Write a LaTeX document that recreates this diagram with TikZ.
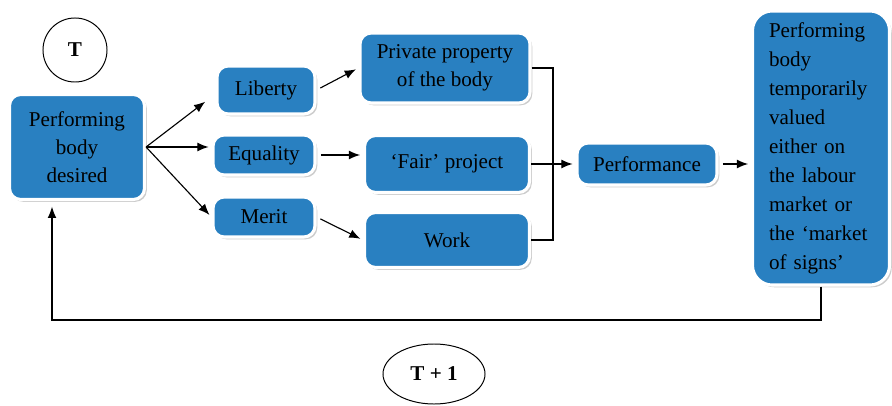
\documentclass[tikz,border=0pt]{standalone}
\usepackage{fontspec}
\setmainfont{Liberation Serif}
\usetikzlibrary{arrows.meta}
\usetikzlibrary{shapes.geometric,shadows}

\definecolor{boxblue}{RGB}{41,128,193}

\tikzset{
 blok/.style={draw=white, line width=2.2pt, fill=boxblue, rounded corners=8pt, align=center,
   drop shadow={shadow xshift=1.6pt, shadow yshift=-1.6pt, opacity=0.4},
   font=\fontsize{15}{20}\selectfont},
 link/.style={-{Latex[length=2.8mm,width=2.2mm]}, line width=0.8pt, shorten >=2pt},
 wire/.style={line width=0.8pt},
 tlabel/.style={draw, line width=0.7pt, font=\fontsize{15}{18}\selectfont\bfseries}
}

\begin{document}
\begin{tikzpicture}[x=0.025cm, y=-0.025cm]
 \useasboundingbox (0,0) rectangle (892,406);

 \node[tlabel, circle, minimum size=1.6cm] (t0) at (75,50) {T};
 \node[tlabel, ellipse, minimum width=2.55cm, minimum height=1.5cm] (t1) at (434,374) {T + 1};

 \node[blok, minimum width=3.375cm, minimum height=2.625cm] (desired) at (77,147) {Performing\\body\\desired};

 \node[blok, minimum width=2.45cm, minimum height=1.2cm] (liberty) at (266,90) {Liberty};
 \node[blok, minimum width=2.55cm, minimum height=1cm] (equality) at (264,155) {Equality};
 \node[blok, minimum width=2.55cm, minimum height=1cm] (merit) at (264,217) {Merit};

 \node[blok, minimum width=4.25cm, minimum height=1.75cm] (private) at (445,68) {Private property\\of the body};
 \node[blok, minimum width=4.125cm, minimum height=1.425cm] (fair) at (447,164) {`Fair' project};
 \node[blok, minimum width=4.125cm, minimum height=1.375cm] (work) at (447,240) {Work};

 \node[blok, minimum width=3.5cm, minimum height=1.05cm] (performance) at (647,164) {Performance};
 \node[blok, rounded corners=14pt, align=left, text width=2.6cm, minimum width=3.425cm,
   minimum height=6.85cm, font=\fontsize{15}{20.6}\selectfont] (market) at (821,148)
   {Performing\\body\\temporarily\\valued\\either on\\the labour\\market or\\the `market\\of signs'};

 \draw[link] (desired.east) -- ([xshift=-0.2cm,yshift=-0.25cm]liberty.west);
 \draw[link] (desired.east) -- (desired.east -| equality.west);
 \draw[link] (desired.east) -- (merit.west);

 \draw[link, shorten <=3pt] (liberty.east) -- (private.west);
 \draw[link, shorten <=3pt] (equality.east) -- (equality.east -| fair.west);
 \draw[link, shorten <=3pt] (merit.east) -- (work.west);

 % the three results join into performance
 \coordinate (join) at (553,164);
 \draw[wire] (private.east) -| (join);
 \draw[wire] (work.east) -| (join);
 \draw[link] (fair.east) -- (performance.west);
 \draw[link, shorten <=3pt] (performance.east) -- (performance.east -| market.west);

 \coordinate (back) at (52,320);
 \draw[link, shorten >=4pt] (market.south) |- (back) -- (back |- desired.south);
\end{tikzpicture}
\end{document}
